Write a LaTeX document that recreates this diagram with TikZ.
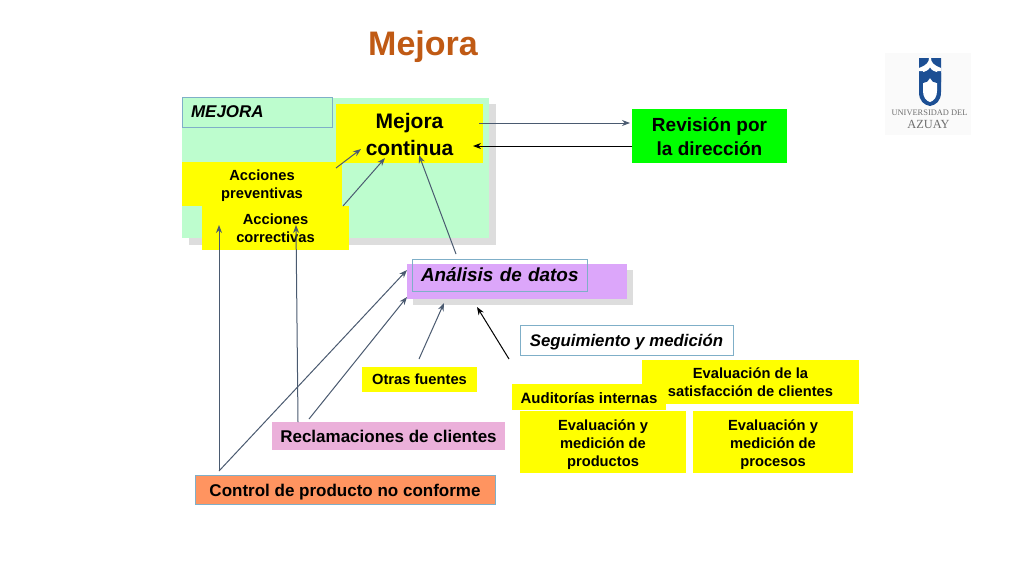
\documentclass[tikz,border=0pt]{standalone}
\usepackage{fontspec}
\setmainfont{Liberation Sans}
\newfontfamily\logoserif{Liberation Serif}
\usetikzlibrary{arrows.meta}
\definecolor{slatec}{HTML}{4A5A70}
\definecolor{paleg}{HTML}{BDFDCE}
\definecolor{shadowg}{HTML}{DDDDDD}
\definecolor{yel}{HTML}{FFFF00}
\definecolor{purp}{HTML}{DCA6FA}
\definecolor{pinkb}{HTML}{EBB0DA}
\definecolor{orangeb}{HTML}{FF9460}
\definecolor{edgeb}{HTML}{7FAFC8}
\definecolor{titlec}{HTML}{C05A14}
\definecolor{logob}{HTML}{1C4F94}
\definecolor{logog}{HTML}{6E6E6E}
\newcommand{\fs}[2]{\fontsize{#1}{#2}\selectfont}
\newcommand{\up}[1]{\rule{0pt}{#1pt}}
\tikzset{
  x=1pt,y=-1pt,
  boxn/.style={inner sep=0pt,outer sep=0pt,align=center,text=black},
  fillb/.style={boxn,draw=none},
  outl/.style={boxn,draw=edgeb,line width=0.8pt},
  arr/.style={draw=slatec,line width=1pt,-{Stealth[length=8pt,width=6pt]}},
  arrk/.style={draw=black,line width=1pt,-{Stealth[length=8pt,width=6pt]}},
}
\newcommand{\bx}[8]{% name, style, x0,y0,x1,y1, font, text
  \node[#2,minimum width=#5pt-#3pt,minimum height=#6pt-#4pt,font=\bfseries #7] (#1) at ({(#3+#5)/2},{(#4+#6)/2}) {#8};
}
\begin{document}
\begin{tikzpicture}
\useasboundingbox[fill=white] (0,0) rectangle (1024,576);
\node[font=\bfseries\fs{34}{40},text=titlec,inner sep=0pt] (title) at (423,47) {Mejora};
% logo
\fill[fill=black!2] (885,53) rectangle (971,135);
\fill[logob] (919,58) -- (941,58) -- (941,92) .. controls (941,101) and (936,105) .. (930,106) .. controls (924,105) and (919,101) .. (919,92) -- cycle;
\fill[white] (929,58) -- (931,58) .. controls (931,62) and (933,65) .. (941,68) -- (941,71) -- (937,71) -- (937,91) .. controls (937,97) and (934,101) .. (930,102) .. controls (926,101) and (923,97) .. (923,91) -- (923,71) -- (919,71) -- (919,68) .. controls (927,65) and (929,62) .. (929,58) -- cycle;
\fill[logob] (930,67.5) .. controls (931,70) and (934,72) .. (941,73) -- (941,82) -- (937,83) .. controls (934,83) and (931,81) .. (930,78) .. controls (929,81) and (926,83) .. (923,83) -- (919,82) -- (919,73) .. controls (926,72) and (929,70) .. (930,67.5) -- cycle;
\node[inner sep=0pt,text=logog,font=\logoserif\fs{8.4}{10}] (logoa) at (929.5,113) {UNIVERSIDAD DEL};
\node[inner sep=0pt,text=logog,font=\logoserif\fs{12.4}{14}] (logob) at (928.5,124) {AZUAY};
% green panel
\fill[shadowg] (189,104) rectangle (496,245);
\fill[paleg] (182,98) rectangle (489,238);
\bx{mejlab}{outl,fill=paleg,text width=132pt,align=left}{182}{97}{332}{127}{\itshape\fs{17}{20}}{MEJORA}
\bx{mc}{fillb,fill=yel}{336}{104}{483}{163}{\fs{21}{27}}{\up{17.3}Mejora\\continua}
\bx{prev}{fillb,fill=yel}{182}{162}{342}{206}{\fs{14.7}{18}}{\up{14.7}Acciones\\preventivas}
\bx{corr}{fillb,fill=yel}{202}{206}{349}{250}{\fs{14.7}{18}}{Acciones\\correctivas}
\bx{rev}{fillb,fill=green}{632}{109}{787}{163}{\fs{19}{24}}{\up{15}Revisi\'on por\\la direcci\'on}
% analysis
\fill[shadowg] (413,270) rectangle (633,305);
\bx{anab}{fillb,fill=purp}{407}{264}{627}{299}{}{}
\bx{ana}{outl,text width=157pt,align=left}{412}{259}{587}{291}{\itshape\fs{18.9}{22}}{\mbox{An\'alisis de datos}}
\bx{seg}{outl,fill=white}{520}{325}{733}{355}{\itshape\fs{16.8}{20}}{\up{16.4}Seguimiento y medici\'on}
\bx{sat}{fillb,fill=yel}{642}{360}{859}{404}{\fs{14.7}{18}}{Evaluaci\'on de la\\satisfacci\'on de clientes}
\bx{aud}{fillb,fill=yel}{512}{384}{666}{410}{\fs{15}{18}}{\up{13}Auditor\'ias internas}
\bx{prod}{fillb,fill=yel}{520}{411}{686}{473}{\fs{14.7}{18}}{\up{16.7}Evaluaci\'on y\\medici\'on de\\productos}
\bx{proc}{fillb,fill=yel}{693}{411}{853}{473}{\fs{14.7}{18}}{\up{16.7}Evaluaci\'on y\\medici\'on de\\procesos}
\bx{otras}{fillb,fill=yel}{362}{367}{477}{392}{\fs{14.7}{18}}{Otras fuentes}
\bx{recl}{fillb,fill=pinkb}{272}{422}{505}{450}{\fs{17}{20}}{Reclamaciones de clientes}
\bx{ctrl}{outl,fill=orangeb}{195}{475}{495}{504}{\fs{17}{20}}{\up{18.4}Control de producto no conforme}
% connectors (offsets from anchors)
\draw[arr] ([shift={(-4,19)}]mc.north east) -- ([shift={(-2,14)}]rev.north west);
\draw[arrk] ([shift={(0,37)}]rev.north west) -- ([shift={(-10,42)}]mc.north east);
\draw[arr] ([shift={(154,6)}]prev.north west) -- ([shift={(25,45)}]mc.north west);
\draw[arr] ([shift={(141,0)}]corr.north west) -- ([shift={(49,54)}]mc.north west);
\draw[arr] ([shift={(49,-10)}]anab.north west) -- ([shift={(83,51)}]mc.north west);
\draw[arr] ([shift={(24,-4)}]ctrl.north west) -- ([shift={(17,19)}]corr.north west);
\draw[arr] ([shift={(26,0)}]recl.north west) -- ([shift={(94,19)}]corr.north west);
\draw[arr] ([shift={(24,-4)}]ctrl.north west) -- ([shift={(0,6)}]anab.north west);
\draw[arr] ([shift={(37,-3)}]recl.north west) -- ([shift={(0,33)}]anab.north west);
\draw[arr] ([shift={(57,-8)}]otras.north west) -- ([shift={(37,39)}]anab.north west);
\draw[arrk] ([shift={(-3,-25)}]aud.north west) -- ([shift={(70,43)}]anab.north west);
\end{tikzpicture}
\end{document}
